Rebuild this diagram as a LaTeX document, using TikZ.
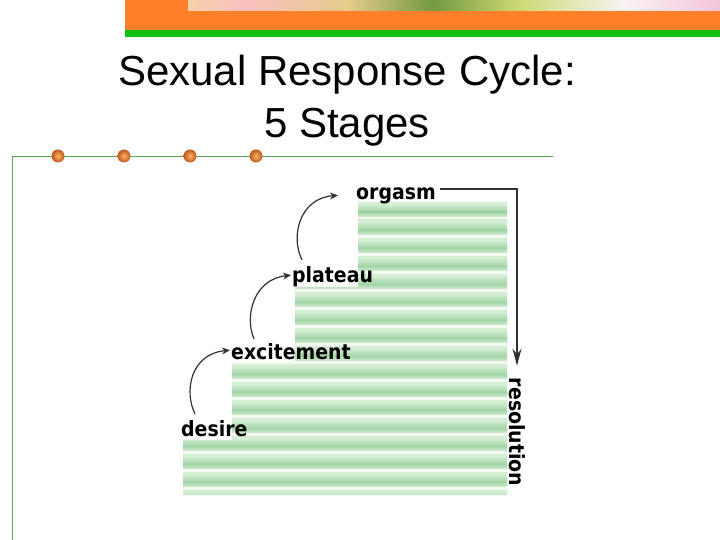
\documentclass[tikz,border=0pt]{standalone}
\usepackage{fontspec}
\setmainfont{Liberation Sans}
\newfontfamily\labfont{DejaVu Sans Condensed}
\usetikzlibrary{arrows.meta}
\definecolor{barorange}{RGB}{255,128,40}
\definecolor{bargreen}{RGB}{16,192,16}
\definecolor{framegreen}{RGB}{80,170,80}
\definecolor{dotorange}{RGB}{235,110,35}
\definecolor{steplight}{RGB}{212,238,212}
\definecolor{stepdark}{RGB}{162,212,166}
\definecolor{arrowgray}{RGB}{50,50,50}
\pgfdeclarehorizontalshading{flowers}{100bp}{
  rgb(0bp)=(0.95,0.85,0.75);
  rgb(10bp)=(0.98,0.70,0.70);
  rgb(20bp)=(0.95,0.90,0.60);
  rgb(30bp)=(0.98,0.75,0.75);
  rgb(40bp)=(0.90,0.80,0.55);
  rgb(48bp)=(0.45,0.60,0.25);
  rgb(56bp)=(0.80,0.85,0.45);
  rgb(66bp)=(0.98,0.95,0.95);
  rgb(76bp)=(0.95,0.75,0.85);
  rgb(88bp)=(0.92,0.80,0.90);
  rgb(95bp)=(0.85,0.25,0.20);
  rgb(100bp)=(0.55,0.65,0.25)}
\tikzset{
  stagelabel/.style={font=\labfont\bfseries\fontsize{21}{23}\selectfont, inner sep=0pt, anchor=base west},
  curvearrow/.style={draw=arrowgray, line width=1.2pt, -{Stealth[length=8pt,width=7pt]}},
  resarrow/.style={draw=arrowgray, line width=1.5pt, -{Stealth[length=17pt,width=9pt]}},
  dot/.style={circle, minimum size=13pt, inner sep=0pt, draw=none,
    shading=radial, inner color=orange!60!white, outer color=dotorange!80!black},
  titletext/.style={font=\fontsize{42}{52}\selectfont, align=center, inner sep=0pt}
}
\begin{document}
\begin{tikzpicture}[x=1pt,y=-1pt]
\useasboundingbox (0,0) rectangle (720,540);
\fill[white] (0,0) rectangle (720,540);
% top bar
\fill[barorange] (125,0) rectangle (720,30);
\shade[shading=flowers] (188,0) rectangle (720,11);
\fill[bargreen] (125,30) rectangle (720,37);
% frame lines
\draw[framegreen, line width=0.9pt] (553,156) -- (12,156) -- (12,540);
\foreach \i/\x in {1/58,2/124,3/190,4/256}
  \node[dot] (dot\i) at (\x,156) {};
% title
\node[titletext, anchor=base] (t1) at (347,86) {Sexual Response Cycle:};
\node[titletext, anchor=base] (t2) at (347,138) {5 Stages};
% staircase
\begin{scope}
\clip (358,202) -- (507,202) -- (507,495) -- (183,495) -- (183,440) -- (232,440)
  -- (232,362) -- (295,362) -- (295,287) -- (358,287) -- cycle;
\fill[steplight] (180,200) rectangle (510,497);
\foreach \y in {202,220,...,496} {
  \shade[top color=steplight, bottom color=stepdark] (180,\y+2) rectangle (510,\y+10);
  \shade[top color=stepdark, bottom color=steplight] (180,\y+10) rectangle (510,\y+15);
  \fill[white!70!steplight] (180,\y+15) rectangle (510,\y+17.5);
}
\end{scope}
% labels
\node[stagelabel] (orgasm) at (356,200) {orgasm};
\node[stagelabel] (plateau) at (292,282) {plateau};
\node[stagelabel] (excitement) at (231,359) {excitement};
\node[stagelabel] (desire) at (181,436) {desire};
\node[stagelabel, anchor=center, rotate=-90] (resolution) at (517,432) {resolution};
% curved arrows
\draw[curvearrow] ([xshift=14pt,yshift=6pt]desire.north west) .. controls (184,392) and (190,354) .. ([xshift=-1pt,yshift=1pt]excitement.west);
\draw[curvearrow] ([xshift=23pt,yshift=4pt]excitement.north west) .. controls (244,316) and (254,279) .. ([xshift=-1pt,yshift=1pt]plateau.west);
\draw[curvearrow] ([xshift=10pt,yshift=6pt]plateau.north west) .. controls (290,236) and (300,198) .. ([xshift=-18pt,yshift=1pt]orgasm.west);
% resolution arrow
\coordinate (resstart) at ([xshift=4pt,yshift=-1pt]orgasm.north east);
\draw[resarrow] (resstart) -| ([yshift=12pt]resolution.west);
\end{tikzpicture}
\end{document}
